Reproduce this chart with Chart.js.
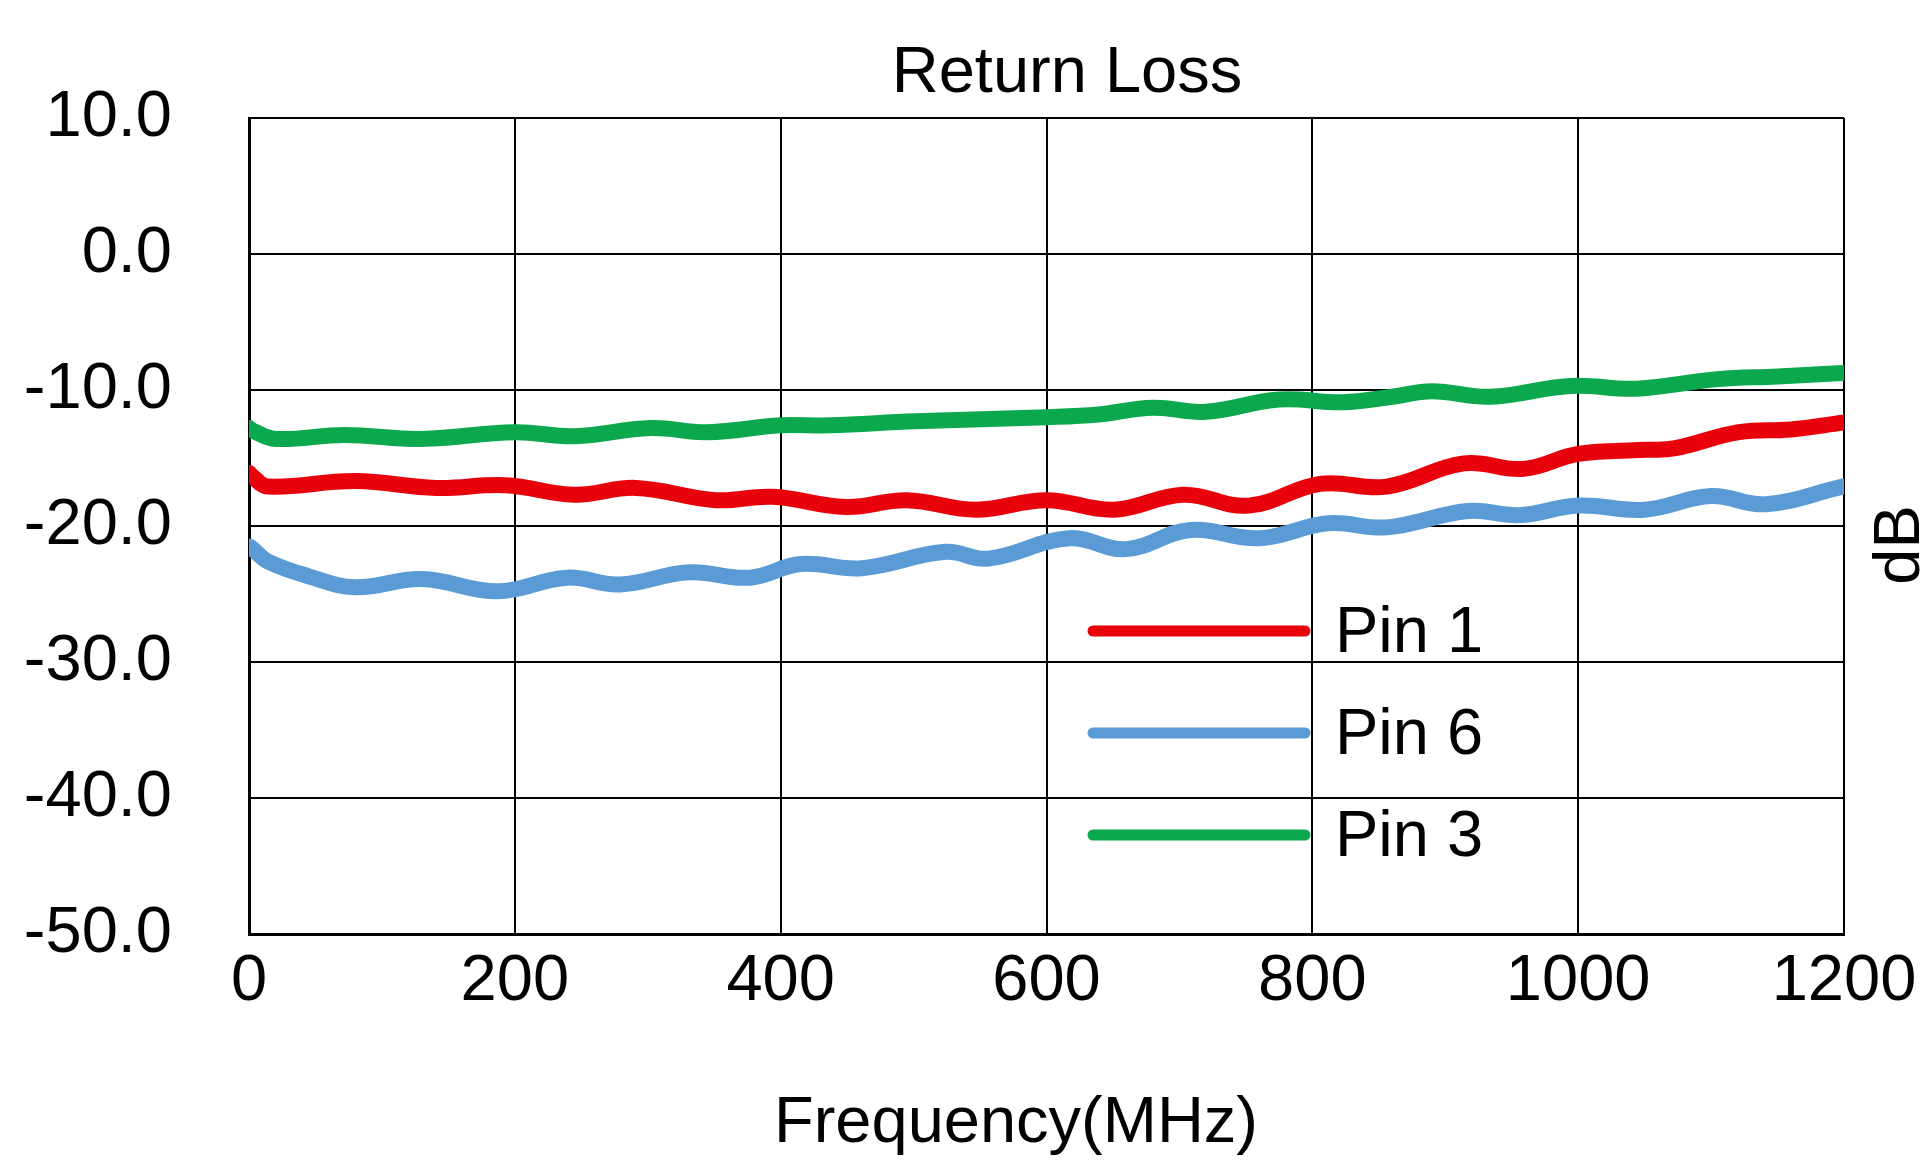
<!DOCTYPE html>
<html>
<head>
<meta charset="utf-8">
<script src="https://cdn.jsdelivr.net/npm/chart.js@4"></script>
<style>
  html, body { margin: 0; padding: 0; background: #fff; }
  #wrap { width: 1926px; height: 1160px; }
</style>
</head>
<body>
<div id="wrap"><canvas id="c" width="1926" height="1160"></canvas></div>
<script>
// ---- data ----
const chartTitle = "Return Loss";
const xAxisTitle = "Frequency(MHz)";
const yAxisTitle = "dB";
const yTicks = [10, 0, -10, -20, -30, -40, -50];
const xTicks = [0, 200, 400, 600, 800, 1000, 1200];
const seriesNames = ["Pin 1", "Pin 6", "Pin 3"];

const pin1Freq = [0, 3, 14, 80, 141, 193, 245, 291, 351, 394, 449, 495, 547, 600, 651, 703, 752, 806, 856, 914, 959, 1000, 1050, 1072, 1121, 1160, 1199];
const pin1Loss = [-16.1, -16.4, -17.1, -16.7, -17.2, -17.0, -17.7, -17.2, -18.1, -17.85, -18.6, -18.1, -18.8, -18.1, -18.8, -17.7, -18.5, -16.9, -17.1, -15.4, -15.8, -14.7, -14.4, -14.3, -13.1, -12.9, -12.4];

const pin6Freq = [0, 3, 14, 45, 80, 130, 187, 239, 279, 331, 377, 415, 461, 524, 556, 617, 660, 708, 760, 812, 856, 917, 956, 1000, 1050, 1100, 1141, 1199];
const pin6Loss = [-21.5, -21.7, -22.6, -23.7, -24.5, -23.9, -24.8, -23.8, -24.3, -23.4, -23.8, -22.8, -23.1, -21.9, -22.4, -20.9, -21.7, -20.3, -20.9, -19.8, -20.1, -18.9, -19.2, -18.5, -18.8, -17.8, -18.4, -17.1];

const pin3Freq = [0, 3, 20, 72, 130, 200, 245, 302, 345, 400, 437, 501, 600, 639, 680, 720, 775, 823, 860, 890, 934, 994, 1044, 1105, 1150, 1199];
const pin3Loss = [-12.8, -13.0, -13.6, -13.3, -13.6, -13.1, -13.4, -12.8, -13.1, -12.6, -12.6, -12.3, -12.0, -11.8, -11.3, -11.6, -10.7, -10.9, -10.5, -10.1, -10.5, -9.7, -9.9, -9.2, -9.0, -8.75];

const seriesColors = ["#E8000B", "#5B9BD5", "#0BA84D"];

const FONT = "'Liberation Sans', Arial, sans-serif";
const FSIZE = 65;

function toPoints(xs, ys) { return xs.map((x, i) => ({ x: x, y: ys[i] })); }

const datasets = [
  { label: seriesNames[0], data: toPoints(pin1Freq, pin1Loss), borderColor: seriesColors[0] },
  { label: seriesNames[1], data: toPoints(pin6Freq, pin6Loss), borderColor: seriesColors[1] },
  { label: seriesNames[2], data: toPoints(pin3Freq, pin3Loss), borderColor: seriesColors[2] }
].map(d => Object.assign(d, {
  borderWidth: 16, pointRadius: 0, tension: 0.4, fill: false,
  borderCapStyle: 'round', borderJoinStyle: 'round', showLine: true,
  backgroundColor: d.borderColor
}));

// titles, in-plot legend and right-side rotated axis title
const extras = {
  id: 'extras',
  afterDraw(chart) {
    const ctx = chart.ctx;
    const a = chart.chartArea;
    ctx.save();
    ctx.font = FSIZE + "px " + FONT;
    ctx.fillStyle = '#000';

    // chart title
    ctx.textAlign = 'center';
    ctx.textBaseline = 'alphabetic';
    ctx.fillText(chartTitle, a.left + 818, a.top - 26);

    // x axis title
    ctx.fillText(xAxisTitle, a.left + 767, a.bottom + 208);

    // legend
    const x1 = a.left + 844, x2 = a.left + 1056, tx = a.left + 1086;
    const rowY = [a.top + 513, a.top + 615, a.top + 717];
    ctx.textAlign = 'left';
    chart.data.datasets.forEach((ds, i) => {
      ctx.strokeStyle = ds.borderColor;
      ctx.lineWidth = 11;
      ctx.lineCap = 'round';
      ctx.beginPath();
      ctx.moveTo(x1, rowY[i]);
      ctx.lineTo(x2, rowY[i]);
      ctx.stroke();
      ctx.fillText(ds.label, tx, rowY[i] + 21);
    });

    // right "dB" title, reading bottom-to-top
    ctx.translate(a.right + 57, (a.top + a.bottom) / 2 + 19);
    ctx.rotate(-Math.PI / 2);
    ctx.textAlign = 'center';
    ctx.textBaseline = 'middle';
    ctx.fillText(yAxisTitle, 0, 0);
    ctx.restore();
  }
};

new Chart(document.getElementById('c'), {
  type: 'scatter',
  data: { datasets: datasets },
  plugins: [extras],
  options: {
    responsive: false,
    animation: false,
    devicePixelRatio: 1,
    layout: { padding: { left: 0, right: 82, top: 118, bottom: 0 } },
    plugins: {
      legend: { display: false },
      tooltip: { enabled: false },
      title: { display: false }
    },
    scales: {
      x: {
        type: 'linear', min: xTicks[0], max: xTicks[xTicks.length - 1],
        afterBuildTicks(scale) { scale.ticks = xTicks.map(v => ({ value: v })); },
        afterFit(scale) { scale.height = 226; },
        ticks: { color: '#000', font: { family: FONT, size: FSIZE }, padding: 9, maxRotation: 0, autoSkip: false,
                 callback: v => String(v) },
        grid: { color: '#000', lineWidth: 2, drawTicks: false },
        border: { color: '#000', width: 3 },
        title: { display: false }
      },
      y: {
        type: 'linear', min: yTicks[yTicks.length - 1], max: yTicks[0],
        afterBuildTicks(scale) { scale.ticks = yTicks.slice().reverse().map(v => ({ value: v })); },
        afterFit(scale) { scale.width = 249; },
        ticks: { color: '#000', font: { family: FONT, size: FSIZE }, padding: 77, autoSkip: false,
                 callback: v => Number(v).toFixed(1) },
        grid: { color: '#000', lineWidth: 2, drawTicks: false },
        border: { color: '#000', width: 3 }
      }
    }
  }
});
</script>
</body>
</html>
